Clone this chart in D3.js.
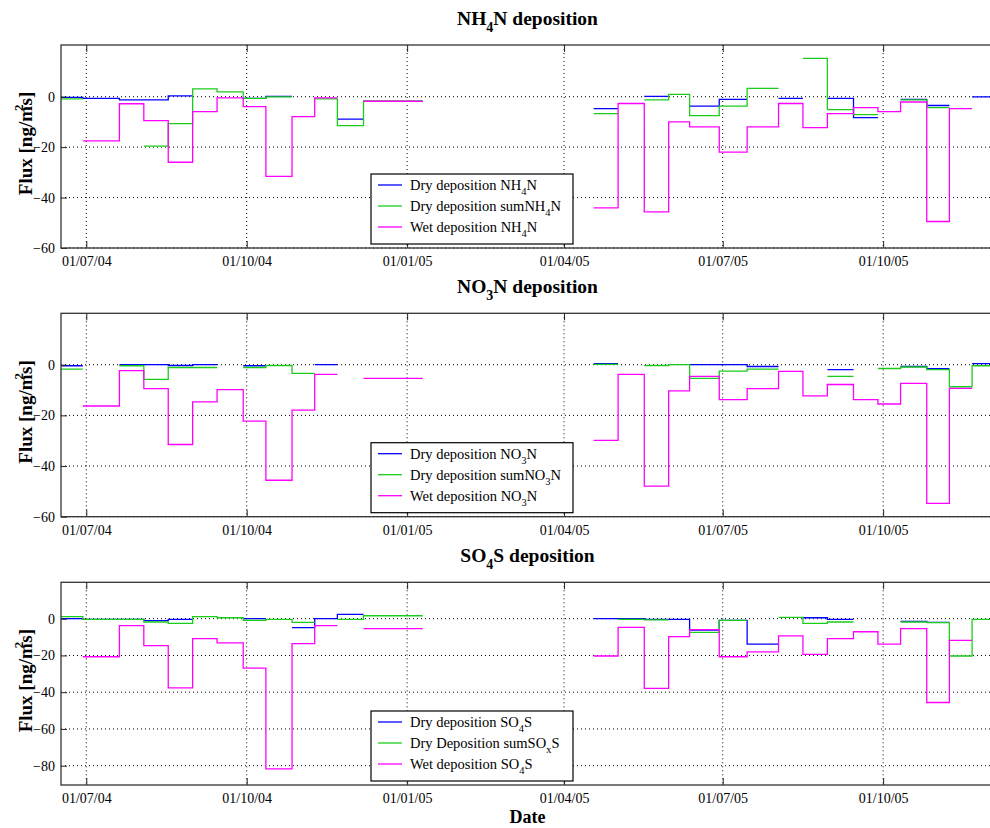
<!DOCTYPE html>
<html>
<head>
<meta charset="utf-8">
<script src="https://cdn.jsdelivr.net/npm/d3@7"></script>
<style>
body { margin: 0; background: #fff; }
svg text { font-family: "Liberation Serif", "Times New Roman", serif; fill: #000; }
</style>
</head>
<body>
<svg id="chart" width="990" height="828"></svg>
<script>
// sampling periods (two campaigns, mostly two-weekly)
var periodStart = ["2004-06-15","2004-06-29","2004-07-20","2004-08-03","2004-08-17","2004-08-31","2004-09-14",
    "2004-09-29","2004-10-12","2004-10-27","2004-11-09","2004-11-22","2004-12-07",
    "2005-04-18","2005-05-02","2005-05-17","2005-05-31","2005-06-12","2005-06-29","2005-07-15","2005-08-02",
    "2005-08-16","2005-08-30","2005-09-14","2005-09-28","2005-10-11","2005-10-26","2005-11-08","2005-11-21"]
var periodEnd = ["2004-06-29","2004-07-20","2004-08-03","2004-08-17","2004-08-31","2004-09-14","2004-09-29",
    "2004-10-12","2004-10-27","2004-11-09","2004-11-22","2004-12-07","2005-01-10",
    "2005-05-02","2005-05-17","2005-05-31","2005-06-12","2005-06-29","2005-07-15","2005-08-02","2005-08-16",
    "2005-08-30","2005-09-14","2005-09-28","2005-10-11","2005-10-26","2005-11-08","2005-11-21","2005-12-05"]

var xTickDates = ["2004-07-01","2004-10-01","2005-01-01","2005-04-01","2005-07-01","2005-10-01"]

// NH4N
var nh4Dry = [-0.3,-0.7,-1.3,-1.3,0.3,null,null,-0.7,0.1,null,null,-8.9,null,
    -4.7,null,0.1,null,-3.7,-1.1,null,-0.7,null,-0.7,-8.3,null,-1.1,-3.5,null,-0.1]
var nh4DrySum = [-0.9,null,null,-19.6,-10.7,3.1,1.9,-0.7,-0.1,null,-0.9,-11.5,-1.7,
    -6.7,null,-1.3,0.9,-7.5,-3.7,3.3,null,15.2,-5.1,-7.1,null,-1.3,-4.3,null,null]
var nh4Wet = [null,-17.5,-2.8,-9.5,-26,-5.9,-0.5,-3.9,-31.6,-7.9,-0.5,null,-1.8,
    -44.1,-2.7,-45.7,-10,-12,-22,-12,-2.7,-12.3,-6.7,-4.3,-5.9,-2.1,-49.5,-4.7,null]

// NO3N
var no3Dry = [-0.4,null,0,0,-0.3,0,null,-0.4,null,null,0,null,null,
    0.4,null,null,null,0,0,-0.7,null,null,-1.9,null,null,-0.7,-1.6,null,0.4]
var no3DrySum = [-1.7,null,-0.4,-5.8,-1.1,-1.1,null,-1.1,-0.3,-3.4,null,null,null,
    0.1,null,-0.3,0,-5.4,-2.5,-1.7,null,null,-4.6,null,-1.5,-0.9,-1.9,-8.7,-0.4]
var no3Wet = [null,-16.3,-2.3,-9.4,-31.5,-14.7,-9.8,-22.3,-45.6,-17.9,-3.8,null,-5.4,
    -29.9,-3.8,-47.9,-10.3,-4.6,-13.8,-9.4,-2.6,-12.3,-7.8,-13.8,-15.5,-7.4,-54.7,-9.3,null]

// SO4S
var so4Dry = [0,-0.4,-0.4,-1.1,-0.4,null,null,0,null,-4.9,0,2.4,null,
    0,0,-0.4,-0.4,-6.2,-0.9,-13.8,null,0.5,-0.4,null,null,-1.5,-2,null,null]
var so4DrySum = [1.1,-0.4,-0.4,-1.8,-2.5,1.1,0.5,-0.9,-0.4,-2,null,-0.4,1.6,
    null,-0.4,-0.7,null,-7.4,-0.9,null,0.7,-2.5,-1.8,null,null,-1.8,-2.1,-20.3,-0.4]
var so4Wet = [null,-20.7,-3.8,-14.7,-37.7,-10.9,-13.2,-26.9,-81.7,-13.6,-3.8,null,-5.4,
    -20.3,-4.7,-37.9,-9.8,-6,-20.7,-18.1,-9.3,-19.4,-10.9,-7.1,-13.8,-5.4,-45.6,-11.8,null]

var colors = ["#0000ff", "#1ccc1c", "#ff00ff"]

var panels = [
    {title: "NH_4N deposition", top: 45, bottom: 248, yDomain: [-60, 20.5], yTicks: [-60,-40,-20,0],
     series: [nh4Dry, nh4DrySum, nh4Wet],
     labels: ["Dry deposition NH_4N", "Dry deposition sumNH_4N", "Wet deposition NH_4N"]},
    {title: "NO_3N deposition", top: 313.3, bottom: 516.7, yDomain: [-60, 20.3], yTicks: [-60,-40,-20,0],
     series: [no3Dry, no3DrySum, no3Wet],
     labels: ["Dry deposition NO_3N", "Dry deposition sumNO_3N", "Wet deposition NO_3N"]},
    {title: "SO_4S deposition", top: 582.3, bottom: 785, yDomain: [-90.5, 19.8], yTicks: [-80,-60,-40,-20,0],
     series: [so4Dry, so4DrySum, so4Wet],
     labels: ["Dry deposition SO_4S", "Dry Deposition sumSO_xS", "Wet deposition SO_4S"]}
]

var parse = d3.timeParse("%Y-%m-%d")
var left = 61, right = 993

var x = d3.scaleTime()
    .domain([new Date(2004, 5, 16, 12), new Date(2005, 11, 3)])
    .range([left, right])

var svg = d3.select("#chart")

// writes "NH_4N" style strings, char after _ is a subscript
var subText = function(sel, str, size)
{
    var parts = str.split("_")
    sel.append("tspan").text(parts[0])
    for (var i = 1; i < parts.length; i++) {
        sel.append("tspan").attr("dy", size * 0.35).attr("font-size", size * 0.72).text(parts[i][0])
        sel.append("tspan").attr("dy", -size * 0.35).text(parts[i].slice(1))
    }
}

var stepPoints = function(vals)
{
    var pts = []
    for (var i = 0; i < vals.length; i++) {
        if (i > 0 && periodStart[i] != periodEnd[i - 1]) pts.push({gap: true})
        pts.push({d: parse(periodStart[i]), v: vals[i]})
        pts.push({d: parse(periodEnd[i]), v: vals[i]})
    }
    return pts
}

var drawPanel = function(p, idx)
{
    var y = d3.scaleLinear().domain(p.yDomain).range([p.bottom, p.top])
    var g = svg.append("g")
    var xt = xTickDates.map(parse)

    // dotted grid
    g.selectAll(".gx").data(xt).enter().append("line")
        .attr("x1", function(d) { return x(d) }).attr("x2", function(d) { return x(d) })
        .attr("y1", p.top).attr("y2", p.bottom)
        .attr("stroke", "#000").attr("stroke-dasharray", "1,3").attr("stroke-width", 1)
    g.selectAll(".gy").data(p.yTicks).enter().append("line")
        .attr("x1", left).attr("x2", right)
        .attr("y1", function(d) { return y(d) }).attr("y2", function(d) { return y(d) })
        .attr("stroke", "#000").attr("stroke-dasharray", "1,3").attr("stroke-width", 1)

    // data
    var clipId = "clip" + idx
    g.append("clipPath").attr("id", clipId).append("rect")
        .attr("x", left).attr("y", p.top).attr("width", right - left).attr("height", p.bottom - p.top)

    var line = d3.line()
        .defined(function(d) { return !d.gap && d.v != null })
        .x(function(d) { return x(d.d) })
        .y(function(d) { return y(d.v) })

    p.series.forEach(function(vals, k) {
        g.append("path")
            .datum(stepPoints(vals))
            .attr("clip-path", "url(#" + clipId + ")")
            .attr("fill", "none")
            .attr("stroke", colors[k])
            .attr("stroke-width", 1.3)
            .attr("d", line)
    })

    // axes, ticks pointing inward
    var xAxis = d3.axisBottom(x).tickValues(xt).tickFormat(d3.timeFormat("%d/%m/%y"))
        .tickSizeInner(-7).tickSizeOuter(0).tickPadding(8)
    var ax = g.append("g").attr("transform", "translate(0," + p.bottom + ")").call(xAxis)
    ax.select(".domain").remove()
    ax.selectAll("text").attr("font-size", 14).attr("font-family", "Liberation Serif")

    var xTop = g.append("g").attr("transform", "translate(0," + p.top + ")")
        .call(d3.axisTop(x).tickValues(xt).tickFormat("").tickSizeInner(-7).tickSizeOuter(0))
    xTop.select(".domain").remove()

    var ay = g.append("g").attr("transform", "translate(" + left + ",0)")
        .call(d3.axisLeft(y).tickValues(p.yTicks).tickSizeInner(-6).tickSizeOuter(0).tickPadding(6))
    ay.select(".domain").remove()
    ay.selectAll("text").attr("font-size", 14).attr("font-family", "Liberation Serif")

    g.selectAll(".tick line").attr("stroke", "#222")

    // frame
    g.append("rect")
        .attr("x", left).attr("y", p.top).attr("width", right - left).attr("height", p.bottom - p.top)
        .attr("fill", "none").attr("stroke", "#333").attr("stroke-width", 1.3)

    // title
    var t = g.append("text")
        .attr("x", 527.5).attr("y", p.top - 20)
        .attr("text-anchor", "middle").attr("font-size", 19.5).attr("font-weight", "bold")
    subText(t, p.title, 19.5)

    // y label
    var yl = g.append("text")
        .attr("transform", "translate(32," + ((p.top + p.bottom) / 2 - 3) + ") rotate(-90)")
        .attr("text-anchor", "middle").attr("font-size", 19).attr("font-weight", "bold")
    yl.append("tspan").text("Flux [ng/m")
    yl.append("tspan").attr("dy", -9).attr("dx", -5).attr("font-size", 13).text("2")
    yl.append("tspan").attr("dy", 9).attr("dx", -1).text("s]")

    // legend
    var lw = 202, lh = 70
    var lx = 371, ly = p.bottom - 4 - lh
    var leg = g.append("g").attr("transform", "translate(" + lx + "," + ly + ")")
    leg.append("rect").attr("width", lw).attr("height", lh)
        .attr("fill", "#fff").attr("stroke", "#000").attr("stroke-width", 1.2)
    p.labels.forEach(function(lab, k) {
        var cy = 11 + k * 21
        leg.append("line").attr("x1", 7).attr("x2", 31).attr("y1", cy).attr("y2", cy)
            .attr("stroke", colors[k]).attr("stroke-width", 1.3)
        var tx = leg.append("text").attr("x", 39).attr("y", cy + 5).attr("font-size", 14.5)
        subText(tx, lab, 14.5)
    })
}

panels.forEach(drawPanel)

svg.append("text")
    .attr("x", 527.5).attr("y", 823)
    .attr("text-anchor", "middle").attr("font-size", 18).attr("font-weight", "bold")
    .text("Date")
</script>
</body>
</html>
